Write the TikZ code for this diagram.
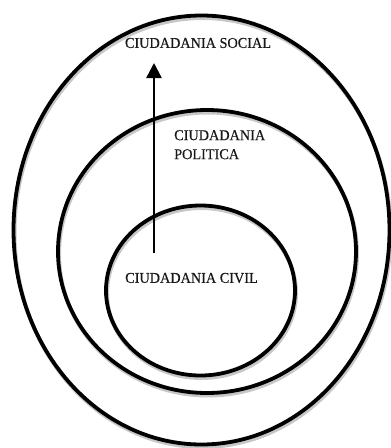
\documentclass[tikz,border=0pt]{standalone}
\usepackage{fontspec}
\setmainfont{Liberation Serif}[FakeStretch=0.95,FakeBold=0.4]
\usetikzlibrary{arrows.meta}
\tikzset{
  ring/.style={draw=black, line width=3.8pt},
  ringshadow/.style={draw=black!22, line width=4pt},
  lbl/.style={font=\fontsize{15}{19}\selectfont, inner sep=0pt, text=black!90},
  arr/.style={line width=2.4pt, -{Triangle[length=15pt,width=15pt]}}
}
\begin{document}
\begin{tikzpicture}[x=1pt,y=-1pt]
\useasboundingbox (0,0) rectangle (391,448);
\coordinate (co) at (201.5,230);
\coordinate (cm) at (207,251.5);
\coordinate (ci) at (200.5,290.5);
% shadows
\draw[ringshadow] ([shift={(1,2.5)}]co) ellipse [x radius=188, y radius=214.5];
\draw[ringshadow] ([shift={(1,2.5)}]cm) ellipse [x radius=149, y radius=141.5];
\draw[ringshadow] ([shift={(1,2.5)}]ci) ellipse [x radius=94.5, y radius=85];
% rings
\draw[ring] (co) ellipse [x radius=188, y radius=214.5];
\draw[ring] (cm) ellipse [x radius=149, y radius=141.5];
\draw[ring] (ci) ellipse [x radius=94.5, y radius=85];
% labels
\node[lbl] (social) at (198,43) {CIUDADANIA SOCIAL};
\node[lbl, align=left, anchor=north west] (politica) at (174,130) {CIUDADANIA\\POLITICA};
\node[lbl] (civil) at (191.5,278) {CIUDADANIA CIVIL};
% arrow
\coordinate (a0) at (154,253);
\coordinate (a1) at (154,63);
\draw[arr] (a0) -- (a1);
\end{tikzpicture}
\end{document}
